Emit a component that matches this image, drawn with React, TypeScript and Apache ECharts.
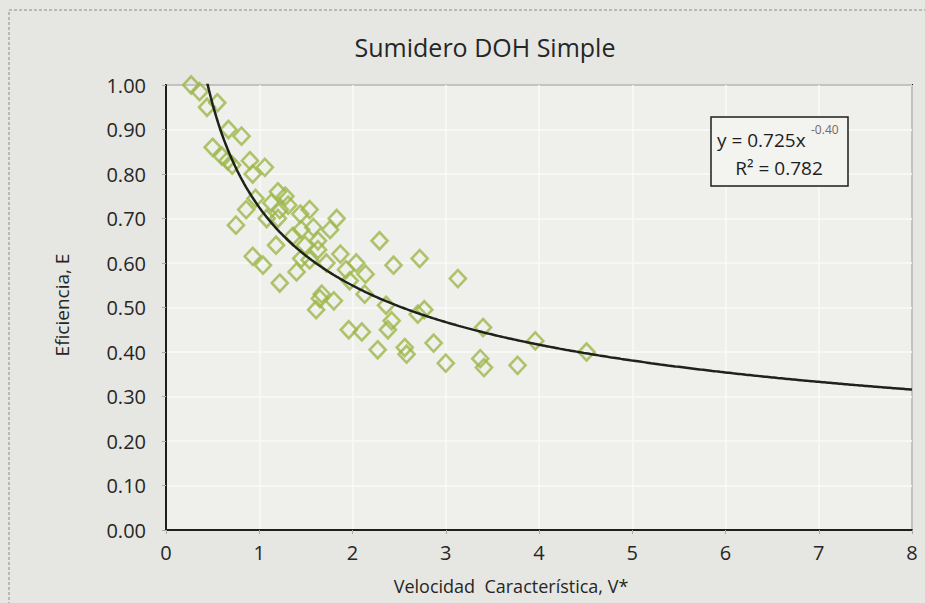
import React, { useEffect, useRef } from "react";
import * as echarts from "echarts";

const xValues = [
  0.27, 0.36, 0.44, 0.55, 0.50, 0.60, 0.67, 0.81, 0.66, 0.71, 0.75, 0.86, 0.90, 0.93, 0.96, 1.06,
  0.93, 1.04, 1.08, 1.13, 1.20, 1.28, 1.31, 1.22, 1.20, 1.18, 1.22, 1.36, 1.40, 1.44, 1.45, 1.45,
  1.49, 1.54, 1.54, 1.58, 1.61, 1.63, 1.63, 1.67, 1.65, 1.72, 1.76, 1.80, 1.83, 1.87, 1.93, 1.96,
  1.97, 2.04, 2.10, 2.13, 2.14, 2.27, 2.29, 2.36, 2.38, 2.42, 2.44, 2.56, 2.58, 2.70, 2.72, 2.77,
  2.87, 3.00, 3.13, 3.37, 3.40, 3.41, 3.77, 3.96, 4.51,
];
const yValues = [
  1.0, 0.985, 0.95, 0.96, 0.86, 0.84, 0.9, 0.885, 0.83, 0.82, 0.685, 0.72, 0.83, 0.8, 0.745, 0.815,
  0.615, 0.595, 0.7, 0.735, 0.76, 0.75, 0.73, 0.72, 0.7, 0.64, 0.555, 0.66, 0.58, 0.71, 0.675, 0.61,
  0.64, 0.72, 0.607, 0.68, 0.495, 0.63, 0.65, 0.53, 0.52, 0.6, 0.675, 0.515, 0.7, 0.62, 0.585, 0.45,
  0.56, 0.6, 0.445, 0.53, 0.575, 0.405, 0.65, 0.505, 0.45, 0.47, 0.595, 0.41, 0.395, 0.485, 0.61, 0.495,
  0.42, 0.375, 0.565, 0.385, 0.455, 0.365, 0.37, 0.425, 0.4,
];
const xTicks = ["0", "1", "2", "3", "4", "5", "6", "7", "8"];
// Fitted power trendline shown on the chart: y = 0.725 x^-0.40
const fitA = 0.725;
const fitB = -0.4;
const fitStart = 0.44;
const fitEnd = 8;

const FONT = "'Open Sans', 'Noto Sans', sans-serif";
const TXT = "#262626";

export default function App() {
  const ref = useRef<HTMLDivElement>(null);
  useEffect(() => {
    document.body.style.margin = "0";
    const chart = echarts.init(ref.current!, null, { renderer: "svg" });
    const points = xValues.map((x, i) => [x, yValues[i]]);
    const fit: number[][] = [];
    for (let x = fitStart; x <= fitEnd + 1e-9; x += 0.02) fit.push([x, fitA * Math.pow(x, fitB)]);
    chart.setOption({
      animation: false,
      backgroundColor: "#e6e7e2",
      textStyle: { fontFamily: FONT },
      title: {
        text: "Sumidero DOH Simple",
        left: 480,
        top: 29,
        textAlign: "center",
        textStyle: { fontFamily: FONT, fontSize: 25, fontWeight: "normal", color: TXT },
      },
      grid: {
        left: 166,
        right: 13,
        top: 85,
        bottom: 73,
        show: true,
        backgroundColor: "#efefeb",
        borderColor: "#1e1e1e",
        borderWidth: 2,
      },
      xAxis: {
        type: "value",
        min: 0,
        max: 8,
        interval: 1,
        axisLine: { show: true, lineStyle: { color: "#1e1e1e", width: 2 } },
        axisTick: { show: true, length: 4, lineStyle: { color: "#aaa" } },
        axisLabel: {
          margin: 12,
          fontSize: 20,
          color: TXT,
          fontFamily: FONT,
          formatter: (v: number) => xTicks[Math.round(v)] ?? String(v),
        },
        splitLine: { show: true, lineStyle: { color: "#fafaf8", width: 1.5 } },
      },
      yAxis: {
        type: "value",
        min: 0,
        max: 1,
        interval: 0.1,
        axisLine: { show: true, lineStyle: { color: "#1e1e1e", width: 2 } },
        axisTick: { show: true, length: 4, lineStyle: { color: "#aaa" } },
        axisLabel: {
          margin: 20,
          fontSize: 20,
          color: TXT,
          fontFamily: FONT,
          formatter: (v: number) => v.toFixed(2),
        },
        splitLine: { show: true, lineStyle: { color: "#fafaf8", width: 1.5 } },
      },
      graphic: [
        {
          type: "rect",
          shape: { x: 9, y: 10, width: 925, height: 600 },
          style: { fill: "none", stroke: "#8a8a8a", lineWidth: 1, lineDash: [3, 2] },
          silent: true,
          z: 0,
        },
        {
          type: "text",
          x: 511,
          y: 586,
          style: {
            text: "Velocidad  Característica, V*",
            fontFamily: FONT,
            fontSize: 18,
            fill: TXT,
            align: "center",
            verticalAlign: "middle",
          },
        },
        {
          type: "text",
          x: 62,
          y: 305,
          rotation: Math.PI / 2,
          style: {
            text: "Eficiencia, E",
            fontFamily: FONT,
            fontSize: 19,
            fill: TXT,
            align: "center",
            verticalAlign: "middle",
          },
        },
        {
          type: "rect",
          shape: { x: 711, y: 117, width: 137, height: 69 },
          style: { fill: "#f3f3f0", stroke: "#1e1e1e", lineWidth: 1.5 },
          z: 10,
        },
        {
          type: "text",
          x: 717,
          y: 140,
          z: 11,
          style: {
            text: "y = 0.725x",
            fontFamily: FONT,
            fontSize: 19,
            fill: "#1e1e1e",
            align: "left",
            verticalAlign: "middle",
          },
        },
        {
          type: "text",
          x: 811,
          y: 129,
          z: 11,
          style: {
            text: "-0.40",
            fontFamily: FONT,
            fontSize: 12,
            fill: "#7a6464",
            align: "left",
            verticalAlign: "middle",
          },
        },
        {
          type: "text",
          x: 779,
          y: 168,
          z: 11,
          style: {
            text: "R² = 0.782",
            fontFamily: FONT,
            fontSize: 19,
            fill: "#1e1e1e",
            align: "center",
            verticalAlign: "middle",
          },
        },
      ],
      series: [
        {
          type: "scatter",
          data: points,
          symbol: "diamond",
          symbolSize: [16, 17],
          itemStyle: { color: "rgba(0,0,0,0)", borderColor: "#9cb64a", borderWidth: 2.6 },
          z: 3,
        },
        {
          type: "line",
          data: fit,
          showSymbol: false,
          smooth: false,
          clip: true,
          lineStyle: { color: "#1d221b", width: 2.5 },
          z: 4,
        },
      ],
    });
    return () => chart.dispose();
  }, []);
  return <div ref={ref} style={{ width: 925, height: 603 }} />;
}
